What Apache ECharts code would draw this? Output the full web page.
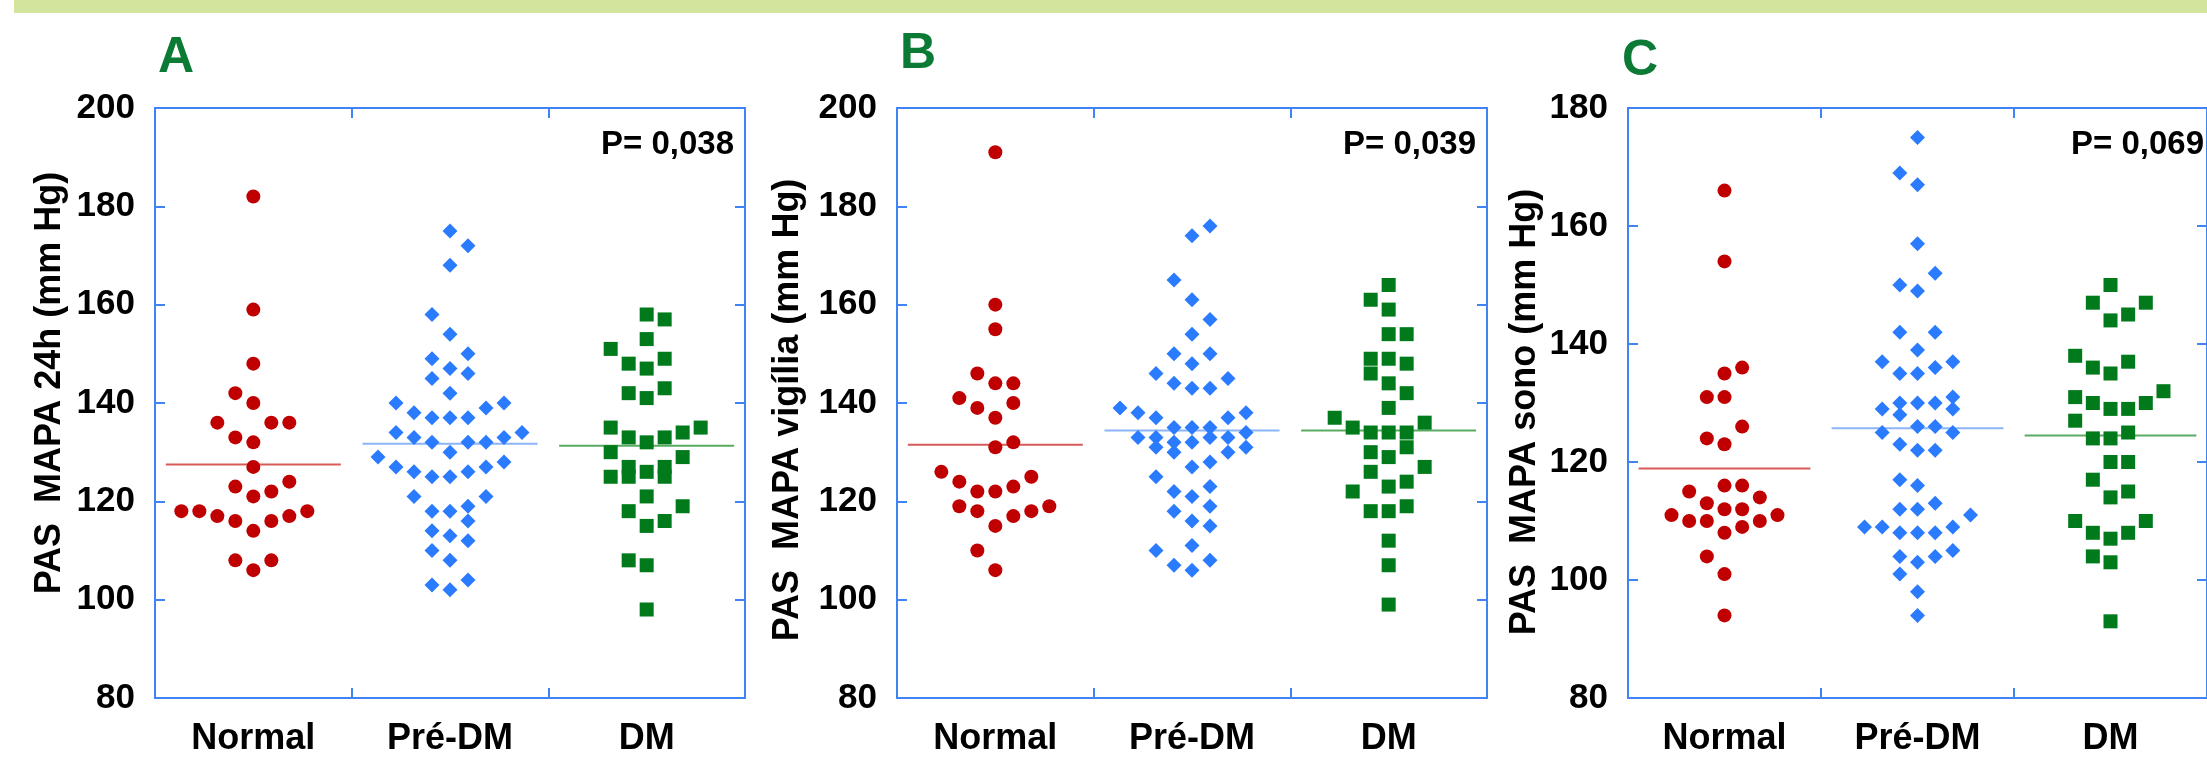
<!DOCTYPE html>
<html>
<head>
<meta charset="utf-8">
<script src="https://cdn.jsdelivr.net/npm/echarts@6/dist/echarts.min.js"></script>
<style>
  html, body { margin: 0; background: #fff; }
  #chart { width: 2207px; height: 757px; }
</style>
</head>
<body>
<div id="chart"></div>
<script>
const groups = ['Normal', 'Pré-DM', 'DM'];

// each point: [column of the dot strip (0 = centre), value in mm Hg]
const mapa24Normal = [[0,182],[0,159],[0,148],[-1,142],[0,140],[-2,136],[1,136],[2,136],[-1,133],[0,132],[0,127],[2,124],[-1,123],[1,122],[0,121],[-4,118],[-3,118],[3,118],[-2,117],[2,117],[-1,116],[1,116],[0,114],[-1,108],[1,108],[0,106]];
const mapa24Pre = [[0,175],[1,172],[0,168],[-1,158],[0,154],[-1,149],[1,150],[0,147],[1,146],[-1,145],[0,142],[-3,140],[3,140],[2,139],[-2,138],[-1,137],[0,137],[1,137],[-3,134],[4,134],[-2,133],[3,133],[-1,132],[1,132],[2,132],[0,130],[-4,129],[3,128],[-3,127],[2,127],[-2,126],[1,126],[-1,125],[0,125],[-2,121],[2,121],[1,119],[-1,118],[0,118],[1,116],[-1,114],[0,113],[1,112],[-1,110],[0,108],[1,104],[-1,103],[0,102]];
const mapa24DM = [[0,158],[1,157],[0,153],[-2,151],[1,149],[-1,148],[0,147],[1,143],[-1,142],[0,141],[-2,135],[3,135],[2,134],[-1,133],[1,133],[0,132],[-2,130],[2,129],[-1,127],[1,127],[0,126],[-2,125],[-1,125],[1,125],[0,121],[2,119],[-1,118],[1,116],[0,115],[-1,108],[0,107],[0,98]];
const mapa24Means = [127.5, 131.7, 131.3];

const vigiliaNormal = [[0,191],[0,160],[0,155],[-1,146],[0,144],[1,144],[-2,141],[-1,139],[1,140],[0,137],[1,132],[0,131],[-3,126],[-2,124],[2,125],[-1,122],[0,122],[1,123],[-2,119],[3,119],[-1,118],[2,118],[1,117],[0,115],[-1,110],[0,106]];
const vigiliaPre = [[1,176],[0,174],[-1,165],[0,161],[1,157],[0,154],[-1,150],[1,150],[0,148],[-2,146],[2,145],[-1,144],[0,143],[1,143],[-4,139],[-3,138],[-2,137],[2,137],[3,138],[-1,135],[0,135],[1,135],[3,134],[-3,133],[-2,133],[1,133],[2,133],[-1,132],[0,132],[-2,131],[3,131],[-1,130],[2,130],[1,128],[0,127],[-2,125],[1,123],[-1,122],[0,121],[1,119],[-1,118],[0,116],[1,115],[-2,110],[0,111],[1,108],[-1,107],[0,106]];
const vigiliaDM = [[0,164],[-1,161],[0,159],[0,154],[1,154],[-1,149],[0,149],[1,148],[-1,146],[0,144],[1,142],[0,139],[-3,137],[-2,135],[2,136],[-1,134],[0,134],[1,134],[1,131],[-1,130],[0,129],[2,127],[-1,126],[1,124],[0,123],[-2,122],[-1,118],[0,118],[1,119],[0,112],[0,107],[0,99]];
const vigiliaMeans = [131.5, 134.4, 134.4];

const sonoNormal = [[0,166],[0,154],[1,136],[0,135],[-1,131],[0,131],[1,126],[-1,124],[0,123],[-2,115],[0,116],[1,116],[-1,113],[2,114],[0,112],[1,112],[-3,111],[3,111],[-2,110],[-1,110],[2,110],[1,109],[0,108],[-1,104],[0,101],[0,94]];
const sonoPre = [[0,175],[-1,169],[0,167],[0,157],[1,152],[-1,150],[0,149],[-1,142],[1,142],[0,139],[-2,137],[2,137],[1,136],[-1,135],[0,135],[2,131],[-1,130],[0,130],[1,130],[-2,129],[2,129],[-1,128],[0,126],[1,126],[-2,125],[2,125],[-1,123],[0,122],[1,122],[-1,117],[0,116],[1,113],[-1,112],[0,112],[3,111],[-3,109],[-2,109],[2,109],[-1,108],[0,108],[1,108],[2,105],[-1,104],[1,104],[0,103],[-1,101],[0,98],[0,94]];
const sonoDM = [[0,150],[-1,147],[2,147],[1,145],[0,144],[-2,138],[1,137],[-1,136],[0,135],[3,132],[-2,131],[2,130],[-1,130],[0,129],[1,129],[-2,127],[1,125],[-1,124],[0,124],[0,120],[1,120],[-1,117],[1,115],[0,114],[-2,110],[2,110],[-1,108],[1,108],[0,107],[-1,104],[0,103],[0,93]];
const sonoMeans = [118.9, 125.7, 124.5];

const yTicksAB = [80, 200];
const yTicksC = [80, 180];

const FONT = "'Liberation Sans', Arial, sans-serif";
const AXIS_BLUE = '#3f83f5';
const pointColors = ['#c00000', '#2b7bff', '#007a1a'];
const meanColors = ['#d85a5a', '#8cb4f8', '#5aab62'];
const symbols = ['circle', 'diamond', 'rect'];
const symbolSizes = [14, 15, 14];
const colStep = 0.0915;   // width of one dot column, in category units
const meanHalf = 0.445;

const panels = [
  { letter: 'A', name: 'PAS  MAPA 24h (mm Hg)', range: yTicksAB, p: 'P= 0,038',
    sets: [mapa24Normal, mapa24Pre, mapa24DM], means: mapa24Means,
    left: 155, nameGap: 87, namePad: [0, 0, 0, 40], letterX: 158, letterY: 58, pX: 734 },
  { letter: 'B', name: 'PAS  MAPA vigília (mm Hg)', range: yTicksAB, p: 'P= 0,039',
    sets: [vigiliaNormal, vigiliaPre, vigiliaDM], means: vigiliaMeans,
    left: 897, nameGap: 91, namePad: [0, 14, 0, 0], letterX: 900, letterY: 54, pX: 1476 },
  { letter: 'C', name: 'PAS  MAPA sono (mm Hg)', range: yTicksC, p: 'P= 0,069',
    sets: [sonoNormal, sonoPre, sonoDM], means: sonoMeans,
    left: 1628, nameGap: 85, namePad: [0, 18, 0, 0], letterX: 1622, letterY: 61, pX: 2204 }
];

const grid = [], xAxis = [], yAxis = [], series = [], graphic = [];

graphic.push({ type: 'rect', shape: { x: 14, y: 0, width: 2193, height: 13 }, style: { fill: '#d3e49c' }, silent: true });

panels.forEach((pn, i) => {
  grid.push({ left: pn.left, top: 108, width: 590, height: 592 });

  const frameX = (position) => ({
    gridIndex: i, type: 'value', position, min: 0, max: 3, interval: 1,
    axisLine: { show: true, onZero: false, lineStyle: { color: AXIS_BLUE, width: 2 } },
    axisTick: { show: true, inside: true, length: 10, lineStyle: { color: AXIS_BLUE, width: 2 } },
    axisLabel: { show: false }, splitLine: { show: false }
  });
  xAxis.push(frameX('bottom'), frameX('top'));
  xAxis.push({
    gridIndex: i, type: 'category', position: 'bottom', data: groups,
    axisLine: { show: false }, axisTick: { show: false }, splitLine: { show: false },
    axisLabel: { margin: 23, color: '#000', fontFamily: FONT, fontWeight: 'bold', fontSize: 36, lineHeight: 36 }
  });

  const frameY = (position, labels) => ({
    gridIndex: i, type: 'value', position, min: pn.range[0], max: pn.range[1], interval: 20,
    axisLine: { show: true, onZero: false, lineStyle: { color: AXIS_BLUE, width: 2 } },
    axisTick: { show: true, inside: true, length: 10, lineStyle: { color: AXIS_BLUE, width: 2 } },
    axisLabel: labels
      ? { margin: 20, color: '#000', fontFamily: FONT, fontWeight: 'bold', fontSize: 35 }
      : { show: false },
    splitLine: { show: false }
  });
  const yl = frameY('left', true);
  yl.name = pn.name;
  yl.nameLocation = 'middle';
  yl.nameGap = pn.nameGap;
  yl.nameTextStyle = { color: '#000', fontFamily: FONT, fontWeight: 'bold', fontSize: 36, lineHeight: 36, padding: pn.namePad };
  yAxis.push(yl, frameY('right', false));

  pn.means.forEach((m, g) => {
    series.push({
      type: 'line', xAxisIndex: i * 3, yAxisIndex: i * 2, silent: true, symbol: 'none', z: 1,
      lineStyle: { color: meanColors[g], width: 2 },
      data: [[g + 0.5 - meanHalf, m], [g + 0.5 + meanHalf, m]]
    });
  });

  pn.sets.forEach((set, g) => {
    series.push({
      name: groups[g], type: 'scatter', xAxisIndex: i * 3, yAxisIndex: i * 2, z: 3,
      symbol: symbols[g], symbolSize: symbolSizes[g],
      itemStyle: { color: pointColors[g], opacity: 1 },
      data: set.map(([col, v]) => [g + 0.5 + col * colStep, v])
    });
  });

  graphic.push({
    type: 'text', x: pn.letterX, y: pn.letterY, silent: true,
    style: { text: pn.letter, fill: '#0a7a35', font: `bold 50px ${FONT}`, align: 'left', verticalAlign: 'middle' }
  });
  graphic.push({
    type: 'text', x: pn.pX, y: 145, silent: true,
    style: { text: pn.p, fill: '#000', font: `bold 33px ${FONT}`, align: 'right', verticalAlign: 'middle' }
  });
});

const chart = echarts.init(document.getElementById('chart'), null, { renderer: 'canvas' });
chart.setOption({
  backgroundColor: '#fff',
  animation: false,
  grid, xAxis, yAxis, series, graphic
});
window.addEventListener('resize', () => chart.resize());
</script>
</body>
</html>
